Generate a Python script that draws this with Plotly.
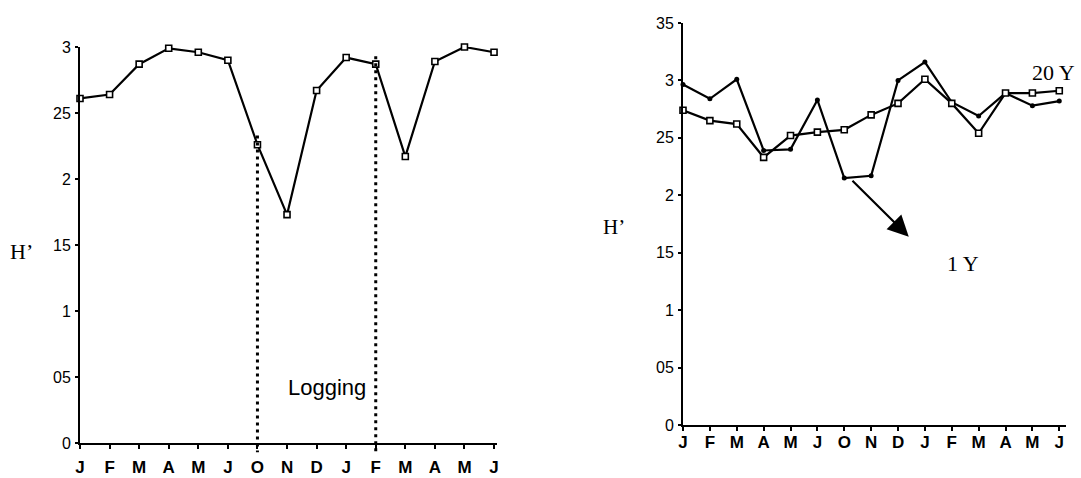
import plotly.graph_objects as go

# Month sequence (Jul-Sep not sampled)
months = ["J", "F", "M", "A", "M", "J", "O", "N", "D", "J", "F", "M", "A", "M", "J"]

# Diversity index H' at the logged site
logged_h = [2.61, 2.64, 2.87, 2.99, 2.96, 2.90, 2.26, 1.73, 2.67, 2.92, 2.87, 2.17, 2.89, 3.00, 2.96]

# Diversity index H' for 1-year and 20-year stands
one_year_h = [2.965, 2.84, 3.01, 2.39, 2.40, 2.83, 2.15, 2.17, 3.00, 3.16, 2.81, 2.69, 2.89, 2.78, 2.82]
twenty_year_h = [2.74, 2.65, 2.62, 2.33, 2.52, 2.55, 2.57, 2.70, 2.80, 3.01, 2.80, 2.54, 2.89, 2.89, 2.91]

left_yticks = [0, 0.5, 1, 1.5, 2, 2.5, 3]
left_yticktext = ["0", "05", "1", "15", "2", "25", "3"]
right_yticks = [0, 0.5, 1, 1.5, 2, 2.5, 3, 3.5]
right_yticktext = ["0", "05", "1", "15", "2", "25", "3", "35"]

# logging period bounds (index into months) and dotted-line extents
logging_start, logging_end = 6, 10
logging_top = [2.33, 2.93]
logging_bottom = -0.07

W, H = 1081, 478
L_XDOM = [80 / W, 497 / W]
L_YDOM = [(H - 443) / H, (H - 47) / H]
L_XRNG = [0, 14.1]
L_YRNG = [0, 3]
R_XDOM = [683 / W, 1066 / W]
R_YDOM = [(H - 425) / H, (H - 23) / H]
R_XRNG = [0, 14.25]
R_YRNG = [0, 3.5]


def to_paper_y(v, dom, rng):
    return dom[0] + (v - rng[0]) / (rng[1] - rng[0]) * (dom[1] - dom[0])


x_idx = list(range(len(months)))
LINE = dict(color="black", width=2.2)
SQUARE = dict(symbol="square", size=6, color="white", line=dict(color="black", width=1.6))
DOT = dict(symbol="circle", size=5, color="black")

fig = go.Figure()
fig.add_trace(go.Scatter(x=x_idx, y=logged_h, xaxis="x", yaxis="y", mode="lines+markers",
                         line=LINE, marker=SQUARE, cliponaxis=False, showlegend=False))
fig.add_trace(go.Scatter(x=x_idx, y=one_year_h, xaxis="x2", yaxis="y2", mode="lines+markers",
                         line=LINE, marker=DOT, cliponaxis=False, showlegend=False))
fig.add_trace(go.Scatter(x=x_idx, y=twenty_year_h, xaxis="x2", yaxis="y2", mode="lines+markers",
                         line=LINE, marker=SQUARE, cliponaxis=False, showlegend=False))

shapes = []
for xi, top in zip([logging_start, logging_end], logging_top):
    shapes.append(dict(type="line", xref="x", yref="paper", x0=xi, x1=xi,
                       y0=to_paper_y(top, L_YDOM, L_YRNG),
                       y1=to_paper_y(logging_bottom, L_YDOM, L_YRNG),
                       line=dict(color="black", width=3, dash="3px,4px")))

tick_font = dict(family="Arial", size=16, color="black")
xtick_font = dict(family="Arial", size=17, color="black", weight="bold")

common_x = dict(tickmode="array", tickvals=x_idx, ticktext=months, showline=True,
                linecolor="black", linewidth=2, ticks="outside", ticklen=4, tickwidth=1.5,
                tickcolor="black", showgrid=False, zeroline=False, tickfont=xtick_font,
                automargin=False)
common_y = dict(tickmode="array", showline=True, linecolor="black", linewidth=2,
                ticks="outside", ticklen=3, tickwidth=1.5, tickcolor="black",
                showgrid=False, zeroline=False, tickfont=tick_font, ticklabelstandoff=1,
                automargin=False)

fig.update_layout(
    template="none",
    width=W, height=H, margin=dict(l=0, r=0, t=0, b=0, pad=0),
    paper_bgcolor="white", plot_bgcolor="white",
    xaxis=dict(domain=L_XDOM, range=L_XRNG, anchor="y", ticklabelstandoff=4, **common_x),
    yaxis=dict(domain=L_YDOM, range=L_YRNG, anchor="x", tickvals=left_yticks,
               ticktext=left_yticktext, **common_y),
    xaxis2=dict(domain=R_XDOM, range=R_XRNG, anchor="y2", ticklabelstandoff=-3, **common_x),
    yaxis2=dict(domain=R_YDOM, range=R_YRNG, anchor="x2", tickvals=right_yticks,
                ticktext=right_yticktext, **common_y),
    shapes=shapes,
    annotations=[
        dict(text="Logging", x=8.35, y=0.42, xref="x", yref="y", showarrow=False,
             xanchor="center", yanchor="middle",
             font=dict(family="Arial", size=22, color="black")),
        dict(text="H’", x=21 / W, y=(H - 252) / H, xref="paper", yref="paper",
             xanchor="center", yanchor="middle", showarrow=False,
             font=dict(family="Liberation Serif", size=22, color="black")),
        dict(text="H’", x=614 / W, y=(H - 227) / H, xref="paper", yref="paper",
             xanchor="center", yanchor="middle", showarrow=False,
             font=dict(family="Liberation Serif", size=21, color="black")),
        dict(text="20 Y", x=13.8, y=3.07, xref="x2", yref="y2", showarrow=False,
             xanchor="center", yanchor="middle",
             font=dict(family="Liberation Serif", size=22, color="black")),
        dict(text="1 Y", x=10.4, y=1.41, xref="x2", yref="y2", showarrow=False,
             xanchor="center", yanchor="middle",
             font=dict(family="Liberation Serif", size=22, color="black")),
        dict(text="", x=8.4, y=1.64, ax=6.25, ay=2.14, xref="x2", yref="y2",
             axref="x2", ayref="y2", showarrow=True, arrowhead=2, arrowsize=1.9,
             arrowwidth=2.2, arrowcolor="black", standoff=0),
    ],
)

fig.write_html("out.html")
